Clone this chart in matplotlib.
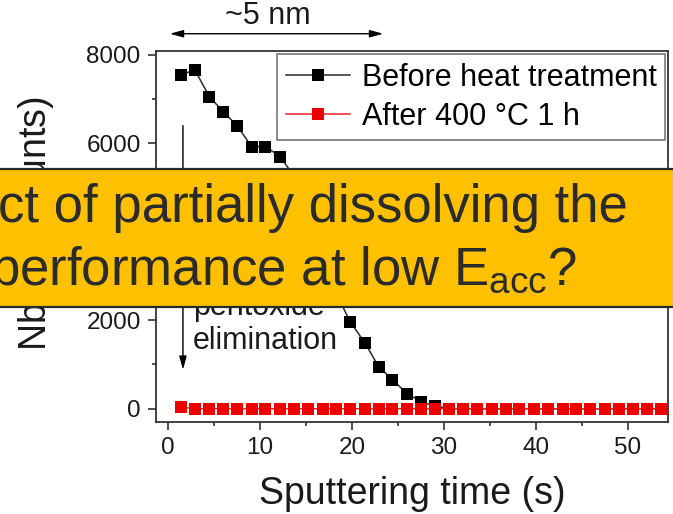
import matplotlib.pyplot as plt
from matplotlib.patches import Rectangle
from matplotlib.ticker import MultipleLocator

plt.rcParams['font.family'] = ['Liberation Sans', 'DejaVu Sans']
plt.rcParams['mathtext.default'] = 'regular'

# sputtering time (s) of each depth-profile point
time_s = [1.4, 2.9, 4.5, 6.0, 7.5, 9.1, 10.6, 12.2, 13.7, 15.2, 16.8, 18.3,
          19.8, 21.4, 22.9, 24.4, 26.0, 27.5, 29.0, 30.6, 32.1, 33.6, 35.2,
          36.7, 38.2, 39.8, 41.3, 42.9, 44.4, 45.9, 47.5, 49.0, 50.5, 52.1, 53.6]
# Nb oxide signal (counts)
before_counts = [7530, 7660, 7050, 6710, 6395, 5920, 5920, 5695, 5250, 4400,
                 3500, 2600, 1966, 1490, 950, 655, 340, 160, 60, 0, 0, 0,
                 0, 0, 0, 0, 0, 0, 0, 0, 0, 0, 0, 0, 0]
after_counts = [40, 0, 0, 0, 0, 0, 0, 0, 0, 0, 0, 0, 0, 0, 0, 0, 0, 0, 0, 0,
                0, 0, 0, 0, 0, 0, 0, 0, 0, 0, 0, 0, 0, 0, 0]

fig = plt.figure(figsize=(6.73, 5.14), dpi=100)
ax = fig.add_axes([156/673, 1 - 422/514, 512/673, 371/514])

ax.plot(time_s, before_counts, color='#2a2a2a', lw=1.1, marker='s', ms=9.2,
        mfc='black', mec='black', mew=0, label='Before heat treatment', zorder=3)
ax.plot(time_s, after_counts, color='#ee2222', lw=1.1, marker='s', ms=9.2,
        mfc='#ee0000', mec='#ee0000', mew=0, label='After 400 °C 1 h', zorder=4)

ax.set_xlim(-1.3, 54.35)
ax.set_ylim(-300, 8080)
ax.xaxis.set_major_locator(MultipleLocator(10))
ax.xaxis.set_minor_locator(MultipleLocator(5))
ax.yaxis.set_major_locator(MultipleLocator(2000))
ax.yaxis.set_minor_locator(MultipleLocator(1000))
ax.tick_params(which='both', direction='out', color='#333333', width=1.2,
               labelsize=17.5, labelcolor='#1a1a1a', top=False, right=False)
ax.tick_params(which='major', length=6, pad=5)
ax.tick_params(which='minor', length=3)
for s in ax.spines.values():
    s.set_color('#333333')
    s.set_linewidth(1.3)

ax.set_xlabel('Sputtering time (s)', fontsize=27, color='#1a1a1a', labelpad=12)
ax.set_ylabel('Nb$_2$O$_5$ (counts)', fontsize=27, color='#1a1a1a')
ax.yaxis.set_label_coords(-0.195, 0.536)

leg = ax.legend(loc='upper left', bbox_to_anchor=((277 - 156)/512, (422 - 54)/371),
                borderaxespad=0, fontsize=22, frameon=True, fancybox=False,
                handlelength=2.1, handletextpad=0.4, labelspacing=0.3,
                borderpad=0.28)
leg.get_frame().set_edgecolor('#555555')
leg.get_frame().set_linewidth(1.2)

# thickness annotation above the plot
ax.annotate('', xy=(23.4, 8470), xytext=(0.2, 8470), annotation_clip=False,
            arrowprops=dict(arrowstyle='<|-|>,head_length=0.8,head_width=0.22',
                            color='black', lw=1, shrinkA=0, shrinkB=0))
ax.text(10.8, 8880, '~5 nm', fontsize=22, ha='center', va='center',
        color='#1a1a1a', clip_on=False)

# pentoxide elimination arrow
ax.annotate('', xy=(1.63, 880), xytext=(1.63, 6395),
            arrowprops=dict(arrowstyle='-|>,head_length=0.8,head_width=0.22',
                            color='black', lw=1, shrinkA=0, shrinkB=0))
ax.text(2.7, 1180, 'Niobium\npentoxide\nelimination', fontsize=22,
        ha='left', va='bottom', linespacing=1.2, color='#1a1a1a')

# slide banner across the chart
fig.patches.append(Rectangle((-0.01, 1 - 307/514), 1.02, (307 - 169)/514,
                             transform=fig.transFigure, facecolor='#ffc000',
                             edgecolor='#2b2b2b', lw=1.6, zorder=10))
fig.text(628/673, 1 - 222/514, 'ct of partially dissolving the', fontsize=38,
         ha='right', va='baseline', color='#2b2b2b', zorder=11)
fig.text(577/673, 1 - 285/514, 'performance at low E$_{acc}$?', fontsize=38,
         ha='right', va='baseline', color='#2b2b2b', zorder=11)

fig.savefig('out.png', dpi=100)
